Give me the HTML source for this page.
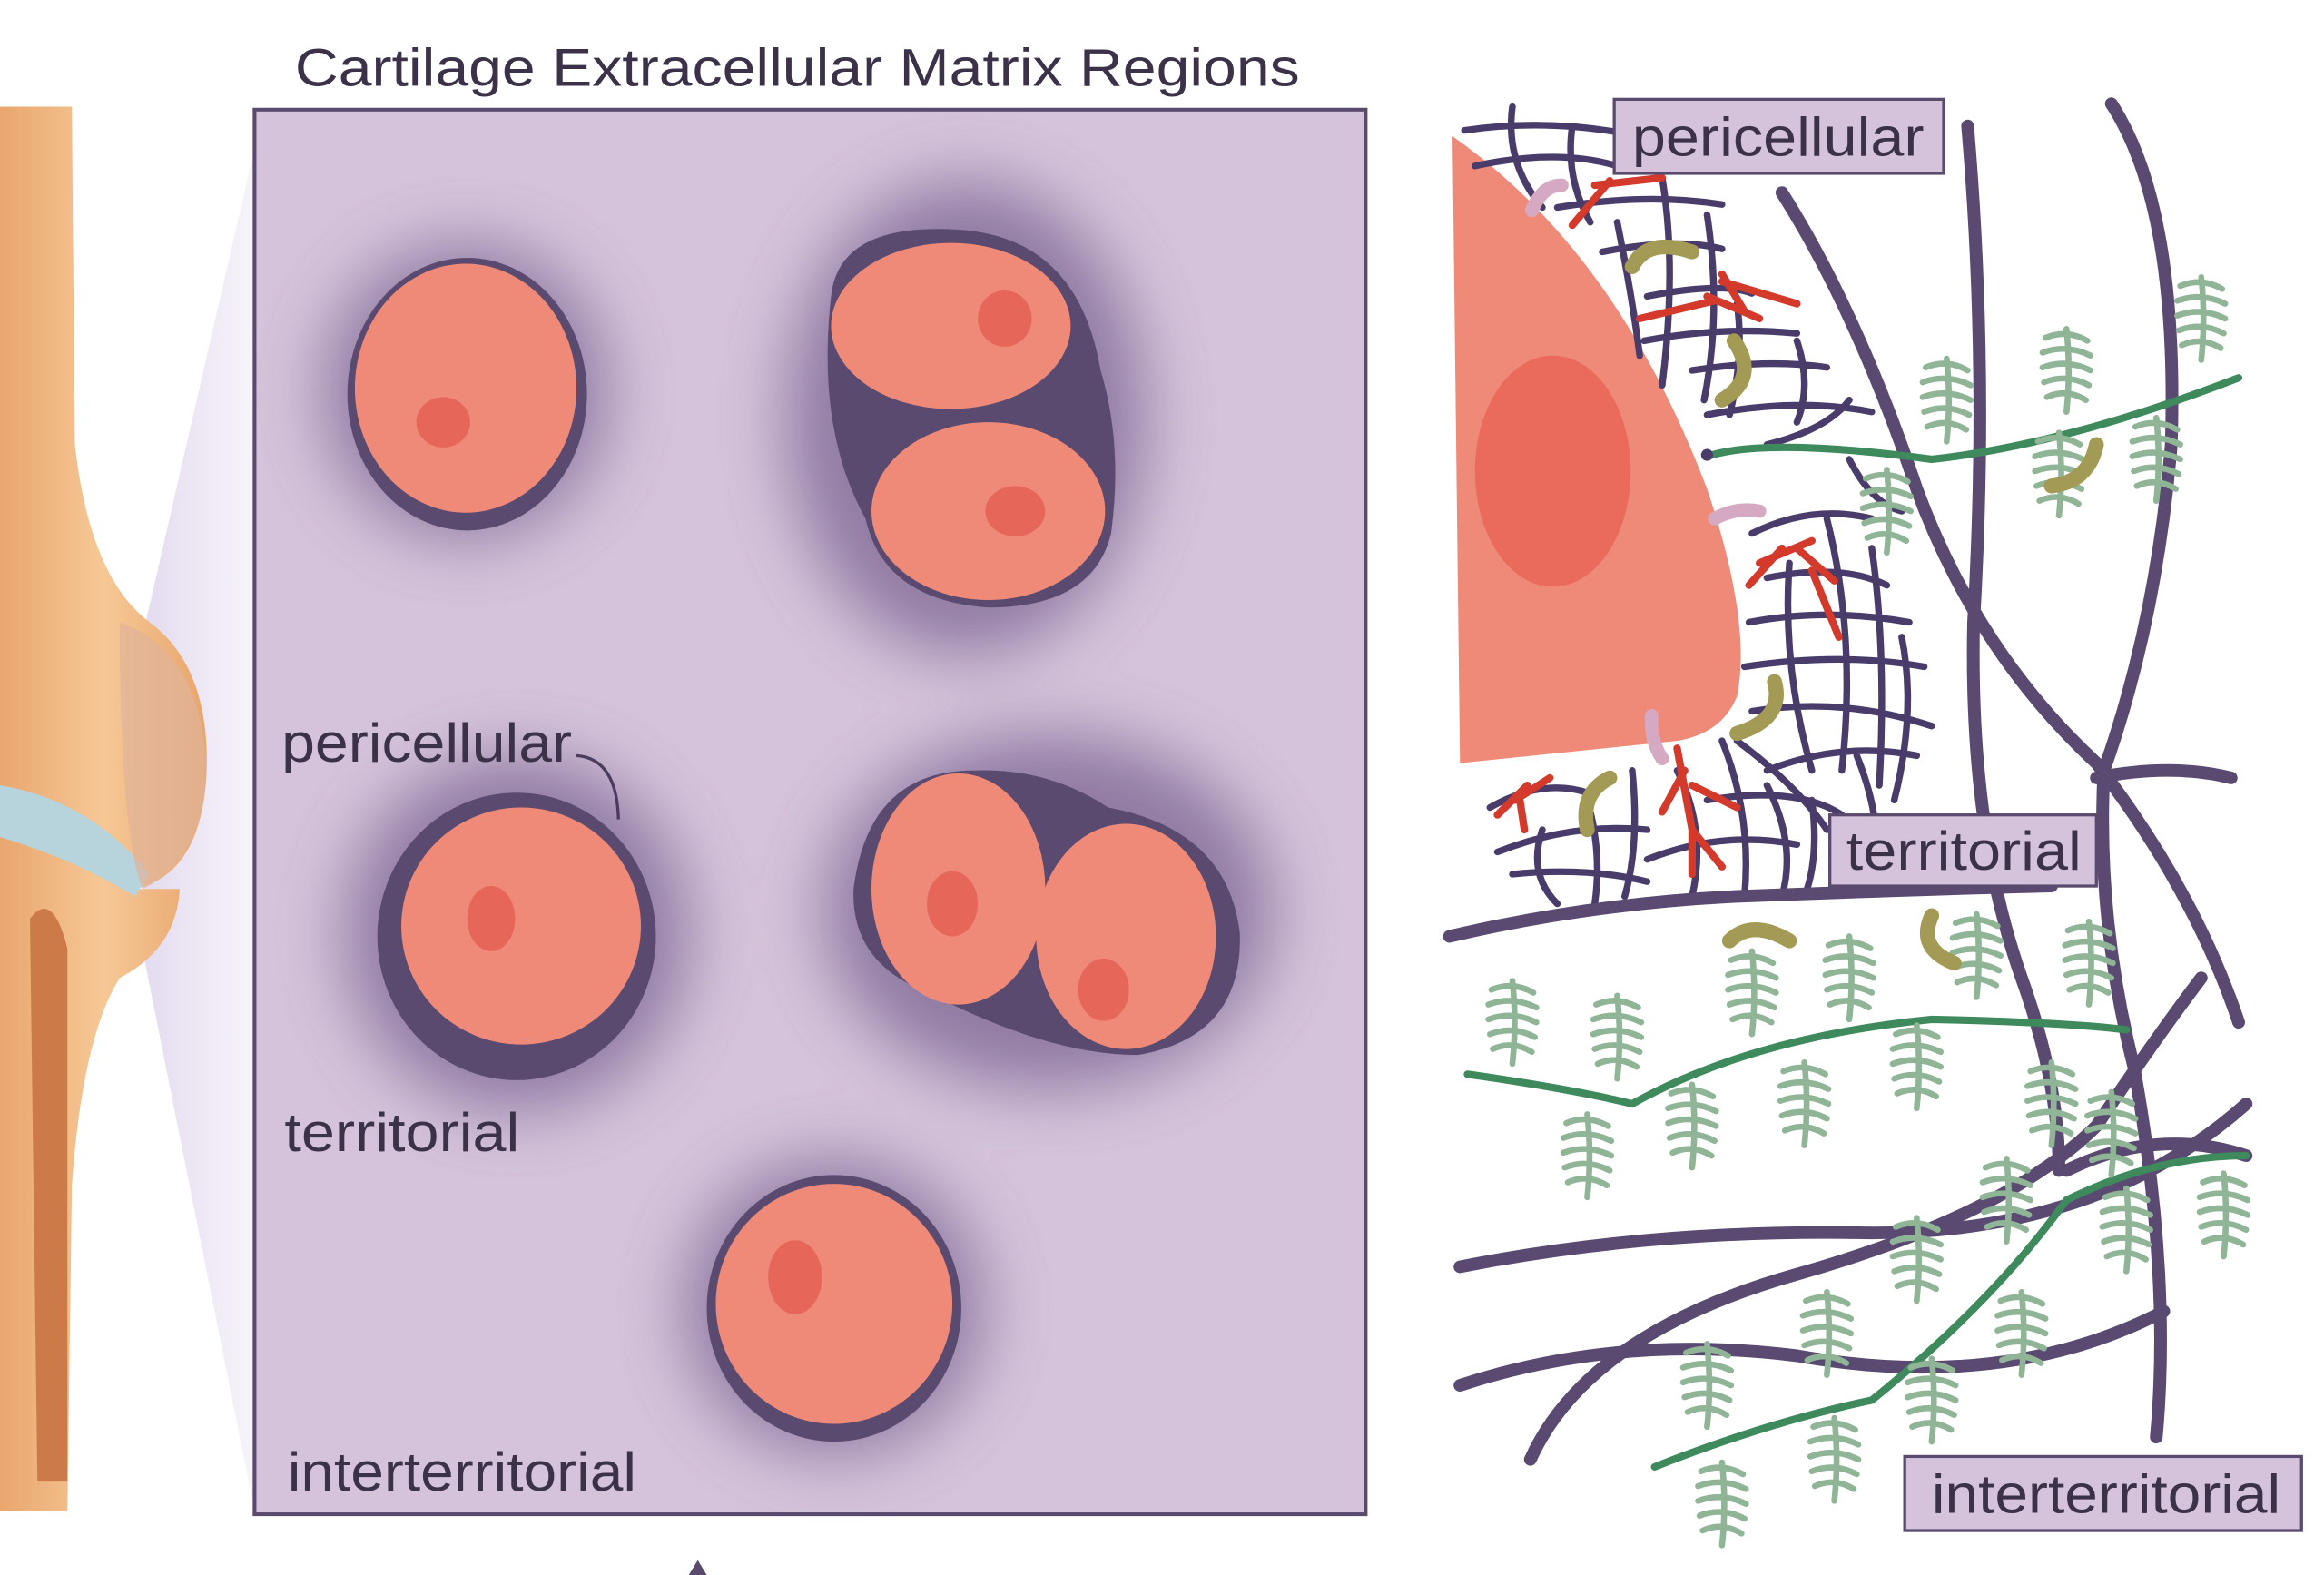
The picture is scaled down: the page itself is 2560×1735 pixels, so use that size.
<!DOCTYPE html>
<html><head><meta charset="utf-8"><style>
html,body{margin:0;padding:0;background:#fff;width:2560px;height:1735px;overflow:hidden}
svg{display:block}
text{font-family:"Liberation Sans",sans-serif;fill:#3b3149}
</style></head><body>
<svg width="2560" height="1735" viewBox="0 0 1552 1063" preserveAspectRatio="none" xmlns="http://www.w3.org/2000/svg">
<defs>
<filter id="blur" x="-50%" y="-50%" width="200%" height="200%"><feGaussianBlur stdDeviation="22"/></filter>
<linearGradient id="bone" x1="0" x2="1"><stop offset="0" stop-color="#e9a66e"/><stop offset="0.5" stop-color="#f6c896"/><stop offset="1" stop-color="#e8a56c"/></linearGradient>
<linearGradient id="proj" x1="0" x2="1"><stop offset="0" stop-color="#e3dbef"/><stop offset="1" stop-color="#f7f4fa"/></linearGradient>
<g id="fern" fill="none" stroke="#8fb596" stroke-width="4" stroke-linecap="round">
<path d="M0,-28 Q3,0 0,28"/>
<path d="M-14,-22 Q0,-28 14,-20 M-16,-12 Q0,-18 16,-10 M-16,-2 Q0,-8 16,0 M-15,8 Q0,2 15,10 M-13,18 Q0,12 13,20"/>
</g>
</defs>
<rect width="1552" height="1063" fill="#fff"/>
<!-- knee -->
<polygon points="95,430 170,100 170,1020 95,640" fill="url(#proj)"/>
<path d="M0,72 L48,72 L50,300 Q60,390 100,420 Q140,450 138,520 Q135,590 90,600 L120,600 Q118,640 80,660 Q55,700 48,800 L45,1020 L0,1020 Z" fill="url(#bone)"/>
<path d="M0,530 Q60,540 100,590 L90,605 Q50,580 0,565 Z" fill="#b7d3dc"/>
<path d="M20,620 Q35,600 45,640 L45,1000 L25,1000 Z" fill="#cc7a47"/>
<path d="M80,420 Q135,440 138,520 Q136,580 95,600 Q80,560 80,420Z" fill="#e0b39a" opacity="0.7"/>
<!-- title -->
<text x="197" y="58" font-size="36" textLength="671" lengthAdjust="spacingAndGlyphs">Cartilage Extracellular Matrix Regions</text>
<!-- panel -->
<rect x="170" y="74" width="742" height="948" fill="#d4c3da" stroke="#5a4a6e" stroke-width="2.5"/>
<g filter="url(#blur)" fill="#7a6390" opacity="0.75">
<ellipse cx="311" cy="264" rx="95" ry="100"/>
<ellipse cx="645" cy="282" rx="120" ry="160"/>
<ellipse cx="345" cy="630" rx="115" ry="120"/>
<ellipse cx="700" cy="615" rx="150" ry="120"/>
<ellipse cx="557" cy="882" rx="100" ry="100"/>
</g>
<g fill="#5b4a6f">
<ellipse cx="312" cy="266" rx="80" ry="92"/>
<path d="M555,200 Q560,150 640,155 Q720,160 735,250 Q750,300 742,360 Q730,410 660,410 Q590,405 578,350 Q545,290 555,200Z"/>
<ellipse cx="345" cy="632" rx="93" ry="97"/>
<path d="M570,600 Q580,520 650,520 Q700,518 740,545 Q820,560 828,630 Q830,700 760,712 Q700,712 620,670 Q568,650 570,600Z"/>
<ellipse cx="557" cy="883" rx="85" ry="90"/>
</g>
<g fill="#f08a78">
<ellipse cx="311" cy="262" rx="74" ry="84"/>
<ellipse cx="635" cy="220" rx="80" ry="56"/>
<ellipse cx="660" cy="345" rx="78" ry="60"/>
<ellipse cx="348" cy="625" rx="80" ry="80"/>
<ellipse cx="640" cy="600" rx="58" ry="78"/>
<ellipse cx="752" cy="632" rx="60" ry="76"/>
<ellipse cx="557" cy="880" rx="79" ry="81"/>
</g>
<g fill="#e6675a">
<ellipse cx="296" cy="285" rx="18" ry="17"/>
<ellipse cx="671" cy="215" rx="18" ry="19"/>
<ellipse cx="678" cy="345" rx="20" ry="17"/>
<ellipse cx="328" cy="620" rx="16" ry="22"/>
<ellipse cx="636" cy="610" rx="17" ry="22"/>
<ellipse cx="737" cy="668" rx="17" ry="21"/>
<ellipse cx="531" cy="862" rx="18" ry="25"/>
</g>
<text x="188" y="514" font-size="37" textLength="194" lengthAdjust="spacingAndGlyphs">pericellular</text>
<path d="M385,510 Q412,512 413,553" fill="none" stroke="#4a3c5e" stroke-width="2"/>
<text x="190" y="777" font-size="37" textLength="157" lengthAdjust="spacingAndGlyphs">territorial</text>
<text x="192" y="1006" font-size="37" textLength="233" lengthAdjust="spacingAndGlyphs">interterritorial</text>
<path d="M460,1063 L466,1053 L472,1063" fill="#5a4a6e"/>
<!-- right panel -->
<path d="M970,92 Q1080,170 1140,330 Q1170,420 1160,470 Q1150,495 1120,500 L975,515 Z" fill="#f08a78"/>
<ellipse cx="1037" cy="318" rx="52" ry="78" fill="#ea6a5c"/>
<!-- mesh -->
<g fill="none" stroke="#4a3c6a" stroke-width="4.5" stroke-linecap="round">
<path d="M978,88 Q1030,80 1085,90 M985,112 Q1040,100 1080,112 M1010,72 Q1005,110 1030,140 M1050,85 Q1045,120 1062,150 M1040,140 Q1100,130 1150,138 M1070,170 Q1120,160 1150,168 M1080,150 Q1090,200 1095,240 M1110,120 Q1120,180 1110,260 M1140,145 Q1150,210 1138,270 M1100,200 Q1150,190 1170,198 M1098,230 Q1150,220 1200,225 M1130,250 Q1180,242 1220,248 M1140,280 Q1200,268 1250,278 M1160,205 Q1165,240 1155,280 M1200,230 Q1210,260 1200,285 M1180,300 Q1220,290 1235,270"/>
<path d="M1170,360 Q1210,340 1250,350 M1180,390 Q1230,380 1260,395 M1168,420 Q1220,410 1275,420 M1165,450 Q1230,440 1285,450 M1170,480 Q1230,470 1290,490 M1180,520 Q1230,500 1280,510 M1195,380 Q1190,450 1210,520 M1220,350 Q1240,430 1230,520 M1250,370 Q1260,440 1255,530 M1270,430 Q1280,480 1265,540 M1235,310 Q1250,340 1270,345 M1160,500 Q1200,530 1220,560 M1240,510 Q1260,560 1250,600"/>
<path d="M995,545 Q1030,525 1060,535 M1000,575 Q1050,555 1100,560 M1030,560 Q1020,590 1040,610 M1060,540 Q1070,575 1065,610 M1090,520 Q1095,570 1085,605 M1100,580 Q1150,560 1200,570 M1120,520 Q1140,560 1130,605 M1150,500 Q1170,550 1165,605 M1180,530 Q1200,570 1190,605 M1210,540 Q1215,580 1205,605 M1140,540 Q1200,530 1230,550 M1010,590 Q1060,585 1100,595"/>
</g>
<!-- big fibers -->
<g fill="none" stroke="#5a4a72" stroke-width="8.5" stroke-linecap="round">
<path d="M1190,130 Q1240,210 1280,330 Q1320,440 1400,515 Q1465,600 1495,690"/>
<path d="M1314,85 Q1328,250 1318,420 Q1315,560 1350,660 Q1375,730 1375,790"/>
<path d="M1410,70 Q1455,140 1450,300 Q1440,420 1405,520 Q1400,620 1425,720 Q1450,860 1440,970"/>
<path d="M968,632 Q1060,610 1160,605 Q1290,600 1370,598"/>
<path d="M1400,525 Q1450,515 1490,525"/>
<path d="M975,855 Q1100,830 1240,832 Q1400,835 1500,745"/>
<path d="M975,935 Q1080,900 1200,915 Q1340,940 1445,885"/>
<path d="M1022,985 Q1060,900 1200,860 Q1340,820 1400,760 Q1440,700 1470,660"/>
<path d="M1380,790 Q1440,760 1500,780"/>
</g>
<!-- green -->
<g fill="none" stroke="#3e8a5c" stroke-width="5" stroke-linecap="round">
<path d="M1140,308 Q1180,295 1290,310 Q1380,300 1495,255"/>
<path d="M980,725 Q1050,735 1090,745 Q1170,700 1290,688 Q1380,690 1420,695"/>
<path d="M1105,990 Q1180,960 1250,945 Q1330,880 1380,810 Q1440,780 1500,780"/>
</g>
<circle cx="1140" cy="307" r="4" fill="#4a3c6a"/>
<!-- ferns -->
<g>
<use href="#fern" x="1300" y="270"/><use href="#fern" x="1470" y="215"/><use href="#fern" x="1380" y="250"/>
<use href="#fern" x="1260" y="345"/><use href="#fern" x="1440" y="310"/><use href="#fern" x="1375" y="320"/>
<use href="#fern" x="1010" y="690"/><use href="#fern" x="1080" y="700"/><use href="#fern" x="1170" y="670"/>
<use href="#fern" x="1235" y="660"/><use href="#fern" x="1320" y="645"/><use href="#fern" x="1395" y="650"/>
<use href="#fern" x="1060" y="780"/><use href="#fern" x="1130" y="760"/><use href="#fern" x="1205" y="745"/>
<use href="#fern" x="1280" y="720"/><use href="#fern" x="1370" y="745"/><use href="#fern" x="1410" y="765"/>
<use href="#fern" x="1340" y="810"/><use href="#fern" x="1280" y="850"/><use href="#fern" x="1420" y="830"/>
<use href="#fern" x="1485" y="820"/><use href="#fern" x="1350" y="900"/><use href="#fern" x="1220" y="900"/>
<use href="#fern" x="1290" y="945"/><use href="#fern" x="1140" y="935"/><use href="#fern" x="1225" y="985"/>
<use href="#fern" x="1150" y="1015"/>
</g>
<!-- olive hooks -->
<g fill="none" stroke="#a39a55" stroke-width="10" stroke-linecap="round">
<path d="M1090,180 Q1100,160 1130,170"/>
<path d="M1158,230 Q1175,255 1150,270"/>
<path d="M1400,300 Q1395,325 1370,328"/>
<path d="M1185,460 Q1192,485 1160,495"/>
<path d="M1075,525 Q1055,535 1060,560"/>
<path d="M1155,635 Q1170,620 1195,635"/>
<path d="M1290,618 Q1280,640 1305,650"/>
</g>
<!-- pink -->
<g fill="none" stroke="#d6a9c2" stroke-width="9" stroke-linecap="round">
<path d="M1023,142 Q1030,125 1043,125"/>
<path d="M1145,350 Q1160,342 1175,345"/>
<path d="M1103,483 Q1102,500 1110,512"/>
</g>
<!-- red -->
<g fill="none" stroke="#d33a2c" stroke-width="5" stroke-linecap="round">
<path d="M1050,152 L1075,122 M1065,125 L1110,120 M1095,215 L1145,203 M1150,185 L1165,210 M1150,190 L1200,205 M1140,200 L1175,215"/>
<path d="M1168,395 L1190,370 M1175,380 L1210,365 M1200,370 L1225,392 M1210,385 L1228,430"/>
<path d="M1000,550 L1020,530 M1012,540 L1035,525 M1015,540 L1018,560 M1120,505 L1130,560 L1130,590 M1130,530 L1160,545 M1130,560 L1150,585 M1125,520 L1110,548"/>
</g>
<!-- label boxes -->
<g fill="#d4c3da" stroke="#5a4a6e" stroke-width="2">
<rect x="1078" y="67" width="220" height="50"/>
<rect x="1222" y="550" width="178" height="48"/>
<rect x="1272" y="983" width="265" height="50"/>
</g>
<text x="1090" y="105" font-size="37" textLength="195" lengthAdjust="spacingAndGlyphs">pericellular</text>
<text x="1233" y="587" font-size="37" textLength="157" lengthAdjust="spacingAndGlyphs">territorial</text>
<text x="1290" y="1021" font-size="37" textLength="233" lengthAdjust="spacingAndGlyphs">interterritorial</text>
</svg>
</body></html>
